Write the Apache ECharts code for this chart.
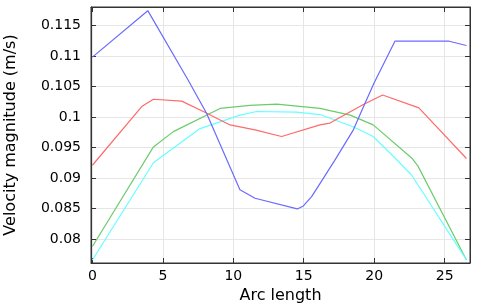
<!DOCTYPE html>
<html>
<head>
<meta charset="utf-8">
<script src="https://cdn.jsdelivr.net/npm/echarts/dist/echarts.min.js"></script>
<style>html,body{margin:0;padding:0;background:#fff;}#c{width:480px;height:306px;}</style>
</head>
<body>
<div id="c"></div>
<script>
const xTicks = [0, 5, 10, 15, 20, 25];
const yTicks = [0.08, 0.085, 0.09, 0.095, 0.1, 0.105, 0.11, 0.115];

const blueX = [0, 3.93, 6.8, 8.1, 10.47, 11.54, 14.54, 14.97, 15.56, 16.15, 17.2, 18.5, 19.3, 20.0, 21.47, 25.32, 26.55];
const blueY = [0.1098, 0.1174, 0.1060, 0.1006, 0.0881, 0.0867, 0.08495, 0.08544, 0.08696, 0.0891, 0.0929, 0.0978, 0.1020, 0.1056, 0.1124, 0.1124, 0.1117];

const redX = [0, 3.5, 4.33, 6.34, 7.87, 9.77, 11.54, 13.43, 16.15, 16.86, 19.2, 20.6, 23.17, 26.55];
const redY = [0.0921, 0.1017, 0.1029, 0.1026, 0.1009, 0.0987, 0.0979, 0.0968, 0.0987, 0.0990, 0.1020, 0.1036, 0.1015, 0.0932];

const greenX = [0, 4.33, 5.74, 9.06, 11.18, 13.08, 16.15, 18.3, 19.93, 22.7, 23.1, 26.55];
const greenY = [0.0788, 0.0951, 0.0976, 0.1014, 0.1019, 0.1021, 0.1014, 0.1003, 0.0987, 0.0932, 0.0920, 0.0766];

const cyanX = [0, 4.33, 5.39, 7.64, 10.47, 11.66, 14.5, 16.15, 18.5, 19.93, 21.6, 22.65, 26.55];
const cyanY = [0.0766, 0.0925, 0.0943, 0.0981, 0.1003, 0.1009, 0.1008, 0.1004, 0.0984, 0.0968, 0.0930, 0.0905, 0.0766];

const zip = (xs, ys) => xs.map((x, i) => [x, ys[i]]);

const FONT = 'DejaVu Sans';
const axisLine = { show: true, onZero: false, lineStyle: { color: '#333', width: 1 } };
const tickStyle = { show: true, inside: true, length: 5, lineStyle: { color: '#333', width: 1 } };
const split = { show: true, lineStyle: { color: '#e6e6e6', width: 1 } };

const chart = echarts.init(document.getElementById('c'), null, { renderer: 'canvas' });
chart.setOption({
  animation: false,
  backgroundColor: '#fff',
  grid: { left: 91, right: 10, top: 7, bottom: 43, containLabel: false, outerBoundsMode: 'none',
    show: true, borderColor: '#333', borderWidth: 1, backgroundColor: 'transparent' },
  xAxis: [
    {
      type: 'value', min: -0.1, max: 26.8, position: 'bottom',
      name: 'Arc length', nameLocation: 'middle', nameGap: 22,
      nameTextStyle: { fontFamily: FONT, fontSize: 16, color: '#000' },
      axisLine: axisLine,
      axisTick: Object.assign({ customValues: xTicks }, tickStyle),
      axisLabel: { customValues: xTicks, fontFamily: FONT, fontSize: 14, color: '#000', margin: 6,
        formatter: v => String(v) },
      splitLine: split
    },
    {
      type: 'value', min: -0.1, max: 26.8, position: 'top',
      axisLine: axisLine,
      axisTick: Object.assign({ customValues: xTicks }, tickStyle),
      axisLabel: { show: false, customValues: xTicks },
      splitLine: { show: false }
    }
  ],
  yAxis: [
    {
      type: 'value', min: 0.0761, max: 0.118, position: 'left',
      name: 'Velocity magnitude (m/s)', nameLocation: 'middle', nameGap: 72,
      nameTextStyle: { fontFamily: FONT, fontSize: 16, color: '#000' },
      axisLine: axisLine,
      axisTick: Object.assign({ customValues: yTicks }, tickStyle),
      axisLabel: { customValues: yTicks, fontFamily: FONT, fontSize: 14, color: '#000', margin: 10,
        formatter: v => String(v) },
      splitLine: split
    },
    {
      type: 'value', min: 0.0761, max: 0.118, position: 'right',
      axisLine: axisLine,
      axisTick: Object.assign({ customValues: yTicks }, tickStyle),
      axisLabel: { show: false, customValues: yTicks },
      splitLine: { show: false }
    }
  ],
  series: [
    { type: 'line', data: zip(greenX, greenY), showSymbol: false, lineStyle: { color: '#6ccc6c', width: 1.2 }, xAxisIndex: 0, yAxisIndex: 0 },
    { type: 'line', data: zip(cyanX, cyanY), showSymbol: false, lineStyle: { color: '#66ffff', width: 1.2 }, xAxisIndex: 0, yAxisIndex: 0 },
    { type: 'line', data: zip(redX, redY), showSymbol: false, lineStyle: { color: '#ff6a6a', width: 1.2 }, xAxisIndex: 0, yAxisIndex: 0 },
    { type: 'line', data: zip(blueX, blueY), showSymbol: false, lineStyle: { color: '#6a6aff', width: 1.2 }, xAxisIndex: 0, yAxisIndex: 0 }
  ]
});
</script>
</body>
</html>
